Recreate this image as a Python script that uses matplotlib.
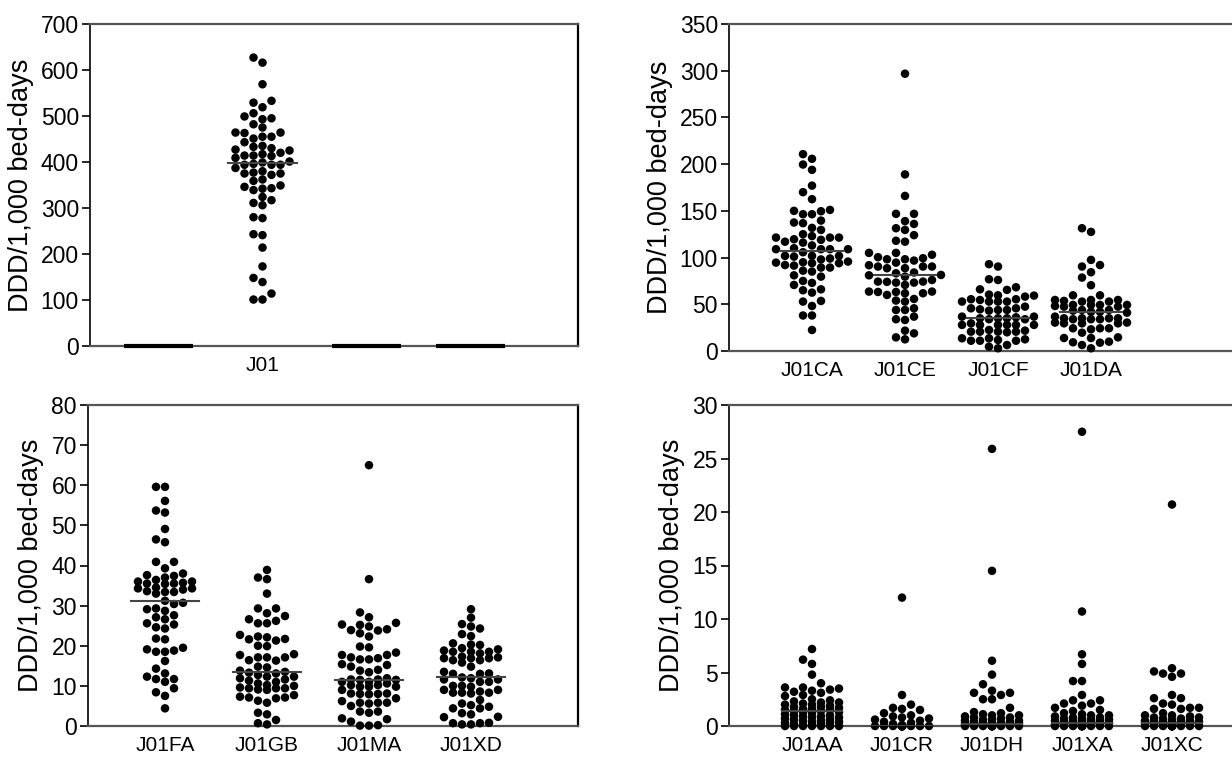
import numpy as np
import matplotlib
matplotlib.use("Agg")
import matplotlib.pyplot as plt

plt.rcParams['font.family'] = ['Liberation Sans', 'DejaVu Sans']

YLABEL = "DDD/1,000 bed-days"

# ---------------- data ----------------
tl_categories = ["", "J01", "", ""]
j01 = [627, 616, 569, 533, 529, 519, 506, 499, 495, 493, 482, 475, 464, 464, 463,
       455, 455, 451, 443, 435, 433, 430, 427, 425, 420, 417, 414, 414, 413, 409,
       401, 399, 396, 394, 394, 394, 387, 380, 377, 375, 375, 372, 362, 359, 349,
       346, 343, 342, 339, 324, 317, 311, 306, 280, 278, 243, 241, 214, 173, 148,
       139, 114, 101, 101]
empty_level = 0.0

tr_categories = ["J01CA", "J01CE", "J01CF", "J01DA"]
j01ca = [210.7, 205.7, 199.6, 193.9, 177, 170, 162.5, 149.6, 146.4, 151, 146.4, 150,
         139.6, 137.5, 136.8, 131.8, 125, 129.6, 121.4, 119, 123, 119.6, 117, 121.4,
         121.4, 116, 113, 109, 109, 105.7, 109, 109, 110, 101.8, 101, 99, 101.8, 101.8,
         98, 94, 94, 95.7, 92, 91.4, 95, 94.6, 89.3, 89.3, 86, 85, 72.9, 81, 79.6, 75,
         65, 66, 70.7, 62.5, 52.9, 53.6, 48.2, 38, 38, 22.5]
j01ce = [296.8, 189, 166, 146.8, 146.8, 139, 136, 131.4, 129.6, 124, 117, 118, 105, 103,
         105, 100.4, 98.2, 98.2, 96.8, 94.6, 99.3, 90.4, 88.6, 91.8, 90.4, 90.4, 88.6,
         83.2, 84, 81, 79.6, 81.4, 76, 74.3, 73.2, 70.7, 74.3, 74, 73.2, 63.6, 63.2,
         61.8, 60, 61.8, 63.2, 63.6, 55.7, 52.9, 54, 45.7, 43.9, 43.9, 34, 33.2, 36.8,
         18.9, 12.5, 14.6, 21.8]
j01cf = [92.9, 90.4, 76, 76.8, 68.2, 66, 65.4, 59.6, 58.2, 60.4, 59.3, 55.4, 54.6, 55.4,
         52.9, 52.9, 52.9, 52.9, 44.6, 45.7, 47.5, 43.2, 43.9, 43.9, 45.7, 36.8, 35, 34,
         36.8, 35, 34, 35, 36, 27.9, 27.9, 27.9, 29.6, 27.9, 27.9, 27.9, 20.7, 20.7,
         20.7, 22.5, 20, 21.8, 20.7, 12.5, 11, 13.6, 13.6, 11, 11, 11.8, 6.4, 2.9, 4.6]
j01da = [127.5, 131.4, 92, 97.5, 90.4, 78.6, 84.3, 70.4, 59.6, 59.6, 52.9, 54.6, 54.6,
         52.9, 53.6, 54.6, 47.5, 49.3, 49.3, 48.2, 49.3, 47.5, 49.3, 43.9, 42, 42, 43.9,
         41, 43.2, 35, 34, 35, 36.8, 35, 34, 35, 34, 29.6, 30.4, 29.6, 30.4, 29.6, 24.3,
         24.3, 23.2, 24.3, 19.6, 13.9, 14.6, 13.9, 10, 9.3, 6.4, 8.9, 2.9]

bl_categories = ["J01FA", "J01GB", "J01MA", "J01XD"]
j01fa = [59.6, 59.6, 56.1, 53.7, 53.2, 49.1, 46.5, 45.8, 40.9, 40.9, 39.3, 37.6, 37.4,
         38, 37, 36.4, 36, 35.7, 35.4, 35.5, 35.5, 36, 34.3, 33.4, 33, 34, 34.5, 34.3,
         33.4, 33.6, 30.7, 30.4, 29.1, 29.3, 28.7, 31.2, 27.6, 27.1, 26.6, 25.3, 25.6,
         24.3, 24.6, 21.6, 21.8, 19.5, 18.8, 18.5, 18.5, 19.1, 16.2, 14.3, 12.3, 11.7,
         11, 11.7, 13.1, 8.4, 7.5, 9.4, 4.4]
j01gb = [38.9, 37, 36.6, 33, 29.3, 28.1, 29.3, 27.4, 26.6, 25.6, 25.6, 26.2, 22.3, 21.7,
         21.3, 21.6, 22.1, 22.7, 19.9, 20, 17.7, 17.1, 16.4, 17.9, 16.3, 17.1, 17.1,
         14.6, 14.8, 13.5, 13.1, 13.3, 13.8, 12.7, 12.3, 11.9, 11.6, 12.3, 10.2, 10.6,
         11, 11.3, 9.6, 9.4, 9.4, 9, 9.4, 9.1, 10, 7.7, 7.1, 6.9, 5.8, 6.3, 7.3, 7.1,
         3.3, 2.9, 1.5, 0.7, 0.4]
j01ma = [65, 36.6, 28.3, 27.1, 25.7, 25.2, 24.8, 25.3, 24.1, 23.8, 23.9, 23.1, 22.3,
         19.8, 19.6, 18.3, 17.7, 17.1, 16.6, 16.6, 16.9, 17.7, 15.4, 14.8, 15.2, 14,
         13.8, 13.4, 11.6, 11.5, 11.5, 11, 11, 11.6, 11.9, 9.8, 10.2, 9.8, 9.8, 10.2,
         10.6, 8, 8.1, 7.9, 8.1, 8, 9, 5.8, 5.8, 5.6, 5.8, 6.2, 6.9, 3.3, 3.6, 3.6, 5,
         1.7, 1.1, 1.9, 0.1, 0.1, 0.2]
j01xd = [29.1, 27, 25.4, 24.8, 24.3, 22.4, 22.9, 20.2, 20.6, 20.3, 18.5, 19.1, 18.5,
         18.5, 18.8, 19.4, 18.1, 16.9, 17.3, 17.1, 16.4, 16.4, 16.9, 16.9, 15.8, 14.8,
         13.1, 13.5, 13, 13, 11.9, 12.1, 11.6, 11, 11, 11.6, 10, 10, 9.8, 9, 8.3, 8.1,
         8.3, 8.3, 8.6, 9, 6.5, 5.6, 5.2, 4.4, 4.8, 4.4, 3.2, 2.9, 2.3, 2.2, 0.8, 0.7,
         0.4, 0.4, 0.7]

br_categories = ["J01AA", "J01CR", "J01DH", "J01XA", "J01XC"]
j01aa = [7.2, 6.2, 5.8, 4.8, 4.0, 3.6, 3.6, 3.5, 3.4, 3.3, 3.2, 3.1, 2.9, 2.8, 2.5, 2.4,
         2.3, 2.2, 2.2, 2.1, 2.0, 2.0, 1.9, 1.8, 1.8, 1.7, 1.6, 1.6, 1.5, 1.5, 1.4, 1.4,
         1.3, 1.3, 1.2, 1.1, 1.0, 1.0, 0.9, 0.9, 0.8, 0.8, 0.7, 0.6, 0.6, 0.5, 0.5, 0.4,
         0.4, 0.3, 0.3, 0.2, 0.2, 0.1, 0.1, 0.0, 0.0, 0.0, 0.0, 0.0, 0.0, 0.0]
j01cr = [12.0, 2.9, 2.0, 1.7, 1.6, 1.5, 1.2, 1.0, 0.9, 0.8, 0.7, 0.6, 0.5, 0.4, 0.3,
         0.2, 0.1,
         0.0, 0.0, 0.0, 0.0, 0.0, 0.0, 0.0, 0.0, 0.0, 0.0, 0.0, 0.0, 0.0, 0.0, 0.0, 0.0,
         0.0, 0.0, 0.0, 0.0, 0.0, 0.0, 0.0, 0.0, 0.0, 0.0, 0.0, 0.0, 0.0, 0.0, 0.0, 0.0,
         0.0, 0.0, 0.0, 0.0, 0.0, 0.0, 0.0, 0.0, 0.0, 0.0, 0.0, 0.0, 0.0, 0.0, 0.0, 0.0]
j01dh = [25.9, 14.5, 6.1, 4.8, 3.9, 3.3, 3.1, 3.1, 2.9, 2.5, 2.5, 1.7, 1.3, 1.2, 1.1,
         1.0, 1.0, 0.9, 0.8, 0.8, 0.7, 0.6, 0.6, 0.5, 0.5, 0.4, 0.4, 0.3, 0.3, 0.3,
         0.25, 0.2, 0.2, 0.2, 0.1, 0.1, 0.1,
         0.0, 0.0, 0.0, 0.0, 0.0, 0.0, 0.0, 0.0, 0.0, 0.0, 0.0, 0.0, 0.0, 0.0, 0.0, 0.0,
         0.0, 0.0, 0.0, 0.0, 0.0, 0.0, 0.0, 0.0, 0.0, 0.0, 0.0, 0.0]
j01xa = [27.5, 10.7, 6.7, 5.8, 4.2, 4.2, 2.9, 2.4, 2.4, 2.1, 2.1, 1.9, 1.7, 1.5, 1.4,
         1.2, 1.1, 1.0, 1.0, 0.9, 0.8, 0.8, 0.7, 0.7, 0.6, 0.6, 0.5, 0.5, 0.5, 0.5, 0.4,
         0.4, 0.3, 0.3, 0.3, 0.2, 0.2, 0.2, 0.1, 0.1, 0.1,
         0.0, 0.0, 0.0, 0.0, 0.0, 0.0, 0.0, 0.0, 0.0, 0.0, 0.0, 0.0, 0.0, 0.0, 0.0, 0.0,
         0.0, 0.0, 0.0, 0.0, 0.0, 0.0, 0.0, 0.0]
j01xc = [20.7, 5.4, 5.1, 4.9, 4.9, 4.6, 2.9, 2.6, 2.6, 2.1, 2.0, 1.7, 1.7, 1.6, 1.6,
         1.2, 1.0, 1.0, 0.9, 0.8, 0.8, 0.7, 0.7, 0.6, 0.5, 0.5, 0.5, 0.4, 0.4, 0.4, 0.4,
         0.3, 0.3, 0.2, 0.2, 0.1, 0.1,
         0.0, 0.0, 0.0, 0.0, 0.0, 0.0, 0.0, 0.0, 0.0, 0.0, 0.0, 0.0, 0.0, 0.0, 0.0, 0.0,
         0.0, 0.0, 0.0, 0.0, 0.0, 0.0, 0.0, 0.0, 0.0, 0.0]

# ---------------- layout ----------------
W, H = 1232, 758
DPI = 100
fig = plt.figure(figsize=(W / DPI, H / DPI), dpi=DPI)

DOT_PX = 8.5      # dot diameter in pixels
COL_PX = 9.0      # column spacing of the swarm in pixels


def px_axes(left, right, top, bottom):
    return fig.add_axes([left / W, 1 - bottom / H, (right - left) / W, (bottom - top) / H])


def swarm_cols(vals, ypx_per_unit, max_col=3):
    vals = np.asarray(vals, dtype=float)
    order = np.argsort(vals, kind="stable")
    cand = [0]
    for k in range(1, max_col + 1):
        cand += [-k, k]
    placed = {c: [] for c in cand}
    cols = np.zeros(len(vals))
    for i in order:
        y = vals[i] * ypx_per_unit
        chosen = None
        for c in cand:
            if all(abs(y - yy) >= DOT_PX * 0.95 for yy in placed[c]):
                chosen = c
                break
        if chosen is None:
            best = -1
            for c in cand:
                d = min(abs(y - yy) for yy in placed[c])
                if d > best + 1e-9:
                    best = d
                    chosen = c
        placed[chosen].append(y)
        cols[i] = chosen
    return cols


def panel(box, cats, data, ymax, ystep, spacing_px, first_px, right_spine=True,
          empty_slots=(), max_col=3):
    left, right, top, bottom = box
    ax = px_axes(left, right, top, bottom)
    ax_h = bottom - top
    ypx_per_unit = ax_h / ymax
    x0 = (left - first_px) / spacing_px
    x1 = (right - first_px) / spacing_px
    ax.set_xlim(x0, x1)
    ax.set_ylim(0, ymax)
    col_units = COL_PX / spacing_px
    for i, vals in enumerate(data):
        if i in empty_slots or len(vals) == 0:
            ax.plot([i - 0.33, i + 0.33], [empty_level, empty_level], color="black",
                    lw=3.0, solid_capstyle="butt", zorder=4, clip_on=False)
            continue
        cols = swarm_cols(vals, ypx_per_unit, max_col=max_col)
        ax.scatter(i + cols * col_units, vals, s=(DOT_PX * 72 / DPI) ** 2,
                   color="black", edgecolors="none", zorder=3, clip_on=False)
        med = np.median(vals)
        ax.plot([i - 0.33, i + 0.33], [med, med], color="#444444", lw=1.5, zorder=4)
    ax.set_xticks(range(len(cats)))
    ax.set_xticklabels(cats, fontsize=15)
    ax.tick_params(axis="x", length=0, pad=7)
    ticks = np.arange(0, ymax + ystep / 2, ystep)
    ax.set_yticks(ticks)
    ax.set_yticklabels([f"{v:g}" for v in ticks], fontsize=16.5)
    ax.tick_params(axis="y", length=6, width=1.2, pad=2, direction="out")
    ax.set_ylabel(YLABEL, fontsize=19.5, labelpad=5)
    for s in ("top", "bottom"):
        ax.spines[s].set_color("#555555")
        ax.spines[s].set_linewidth(1.6)
    ax.spines["left"].set_color("black")
    ax.spines["left"].set_linewidth(1.2)
    ax.spines["right"].set_visible(right_spine)
    ax.spines["right"].set_color("black")
    ax.spines["right"].set_linewidth(1.6)
    return ax


# top-left
panel((90, 578, 24, 346), tl_categories, [[], j01, [], []], 700, 100,
      spacing_px=104, first_px=158.5, right_spine=True, empty_slots=(0, 2, 3))
# top-right
panel((729, 1300, 24, 351), tr_categories, [j01ca, j01ce, j01cf, j01da], 350, 50,
      spacing_px=93, first_px=812, right_spine=False, max_col=4)
# bottom-left
panel((88, 578, 405, 726), bl_categories, [j01fa, j01gb, j01ma, j01xd], 80, 10,
      spacing_px=102, first_px=165, right_spine=True)
# bottom-right
panel((729, 1300, 405, 726), br_categories, [j01aa, j01cr, j01dh, j01xa, j01xc], 30, 5,
      spacing_px=90, first_px=812, right_spine=False)

fig.savefig("out.png", dpi=DPI)
